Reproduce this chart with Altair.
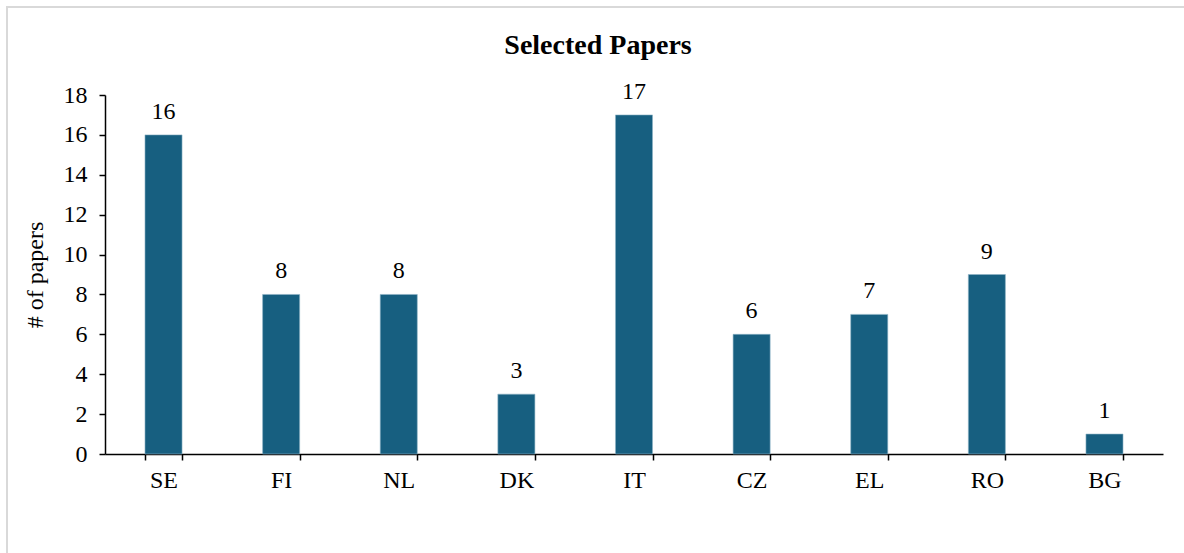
import altair as alt
import pandas as pd

countries = ["SE", "FI", "NL", "DK", "IT", "CZ", "EL", "RO", "BG"]
papers = [16, 8, 8, 3, 17, 6, 7, 9, 1]

df = pd.DataFrame({"country": countries, "papers": papers})

FONT = "Liberation Serif"
BAR_COLOR = "#175f80"
FS = 24

x_enc = alt.X(
    "country:N",
    sort=countries,
    scale=alt.Scale(paddingInner=0.685, paddingOuter=0.34),
    axis=alt.Axis(
        title=None, labelAngle=0, labelFontSize=FS, labelFont=FONT,
        labelColor="black", labelPadding=8, domainColor="black",
        domainWidth=1.5, tickColor="black", tickWidth=1.5, tickSize=6,
        tickBand="extent",
    ),
)
y_enc = alt.Y(
    "papers:Q",
    scale=alt.Scale(domain=[0, 18], nice=False),
    axis=alt.Axis(
        title="# of papers", titleFont=FONT, titleFontSize=FS,
        titleFontWeight="normal", titleColor="black", titlePadding=16,
        values=list(range(0, 19, 2)), labelOverlap=False,
        labelFontSize=FS, labelFont=FONT, labelColor="black",
        labelPadding=12, domainColor="black", domainWidth=1.5,
        tickColor="black", tickWidth=1.5, tickSize=6, grid=False,
    ),
)

base = alt.Chart(df).encode(x=x_enc, y=y_enc)

bars = base.mark_bar(color=BAR_COLOR, stroke="#8fb3c6", strokeWidth=0.6)

labels = base.mark_text(
    dy=-16, fontSize=FS, font=FONT, color="black", baseline="alphabetic"
).encode(text="papers:Q")

# light outer frame around the figure
frame = alt.Chart(df).mark_rect(
    fill=None, stroke="#d9d9d9", strokeWidth=2
).encode(
    x=alt.value(-98), x2=alt.value(1100),
    y=alt.value(-88), y2=alt.value(520),
)

chart = alt.layer(frame, bars, labels).properties(
    width=1058,
    height=359,
    background="white",
    title=alt.TitleParams(
        "Selected Papers", font=FONT, fontSize=28, fontWeight="bold",
        color="black", anchor="middle", frame="group", offset=0,
        dx=-36, dy=54,
    ),
    autosize=alt.AutoSizeParams(type="none"),
    padding={"left": 105, "top": 95, "right": 21, "bottom": 99},
).configure_view(strokeWidth=0)

chart.save("out.html", embed_options={"renderer": "svg", "actions": False})
